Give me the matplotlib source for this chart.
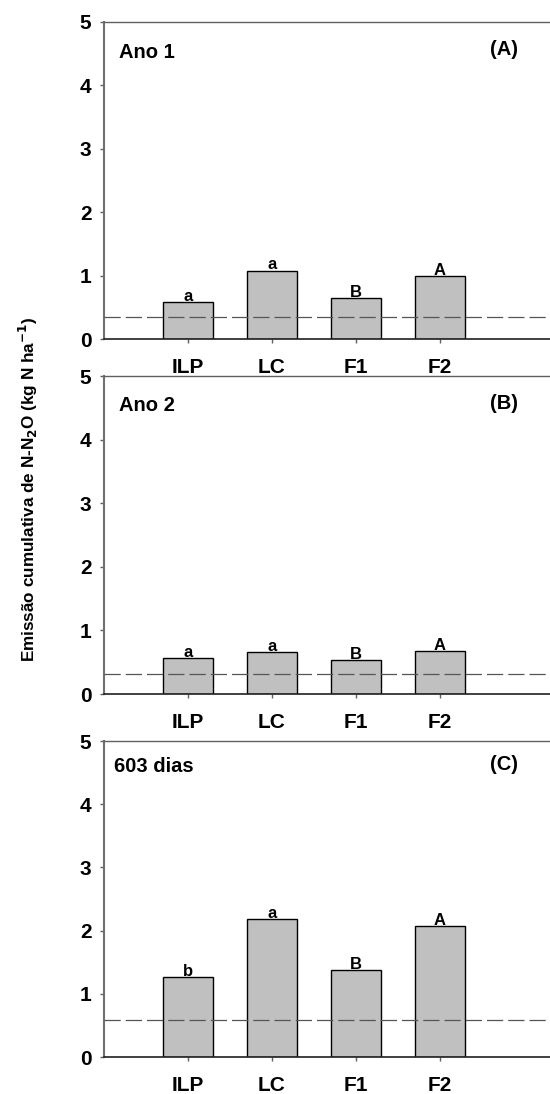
import matplotlib
matplotlib.use("Agg")
from matplotlib import pyplot as plt
import numpy as np

plt.rcParams['font.family'] = ['Liberation Sans', 'DejaVu Sans']
plt.rcParams['font.weight'] = 'bold'

# treatments
categories = ["ILP", "LC", "F1", "F2"]

# cumulative N2O emission (kg N/ha) per panel
ano1 = [0.58, 1.08, 0.65, 1.00]
ano2 = [0.56, 0.66, 0.54, 0.68]
dias603 = [1.27, 2.18, 1.38, 2.07]

# reference (dashed) line per panel
ref_lines = [0.35, 0.32, 0.59]

# significance letters
letters1 = ["a", "a", "B", "A"]
letters2 = ["a", "a", "B", "A"]
letters3 = ["b", "a", "B", "A"]

panel_titles = ["Ano 1", "Ano 2", "603 dias"]
panel_tags = ["(A)", "(B)", "(C)"]

values = [ano1, ano2, dias603]
letters = [letters1, letters2, letters3]

fig = plt.figure(figsize=(5.5, 10.94), dpi=100)

# axes boxes (left, bottom, width, height) in figure fractions
boxes = [
    [0.189, 0.6901, 0.840, 0.2898],
    [0.189, 0.3656, 0.840, 0.2907],
    [0.189, 0.0338, 0.840, 0.2888],
]
title_x = [0.032, 0.032, 0.022]
title_y = [0.905, 0.906, 0.918]

x = np.arange(1, len(categories) + 1)

for i in range(3):
    ax = fig.add_axes(boxes[i])
    ax.bar(x, values[i], width=0.6, color='#c0c0c0', edgecolor='black',
           linewidth=1.0, zorder=2)
    ax.axhline(ref_lines[i], color='#555555', linestyle=(0, (13, 4)),
               linewidth=0.9, zorder=3)

    for xi, v, lt in zip(x, values[i], letters[i]):
        ax.text(xi, v - 0.03, lt, ha='center', va='bottom', fontsize=12,
                fontweight='bold', zorder=4)

    ax.set_xlim(0, 5.5)
    ax.set_ylim(0, 5)
    ax.set_xticks(x)
    ax.set_xticklabels(categories)
    ax.set_yticks(range(0, 6))

    ax.spines['right'].set_visible(False)
    ax.spines['top'].set_color('#606060')
    ax.spines['top'].set_linewidth(1.0)
    ax.spines['left'].set_color('#707070')
    ax.spines['left'].set_linewidth(1.5)
    ax.spines['bottom'].set_color('#202020')
    ax.spines['bottom'].set_linewidth(1.2)

    ax.tick_params(axis='x', direction='out', length=3, width=1,
                   color='#606060', pad=11, labelsize=15)
    ax.tick_params(axis='y', direction='out', length=3, width=1,
                   color='#606060', pad=6, labelsize=15)
    for lab in ax.get_xticklabels() + ax.get_yticklabels():
        lab.set_fontweight('bold')

    ax.text(title_x[i], title_y[i], panel_titles[i], transform=ax.transAxes,
            ha='left', va='center', fontsize=14.5, fontweight='bold')
    ax.text(0.896, title_y[i] + 0.008, panel_tags[i], transform=ax.transAxes,
            ha='right', va='center', fontsize=14.5, fontweight='bold')

fig.text(0.051, 0.553, r'Emissão cumulativa de N-N$_\mathbf{2}$O (kg N ha$^\mathbf{-1}$)',
         rotation=90, ha='center', va='center', fontsize=12.3, fontweight='bold')

fig.savefig("out.png", dpi=100)
